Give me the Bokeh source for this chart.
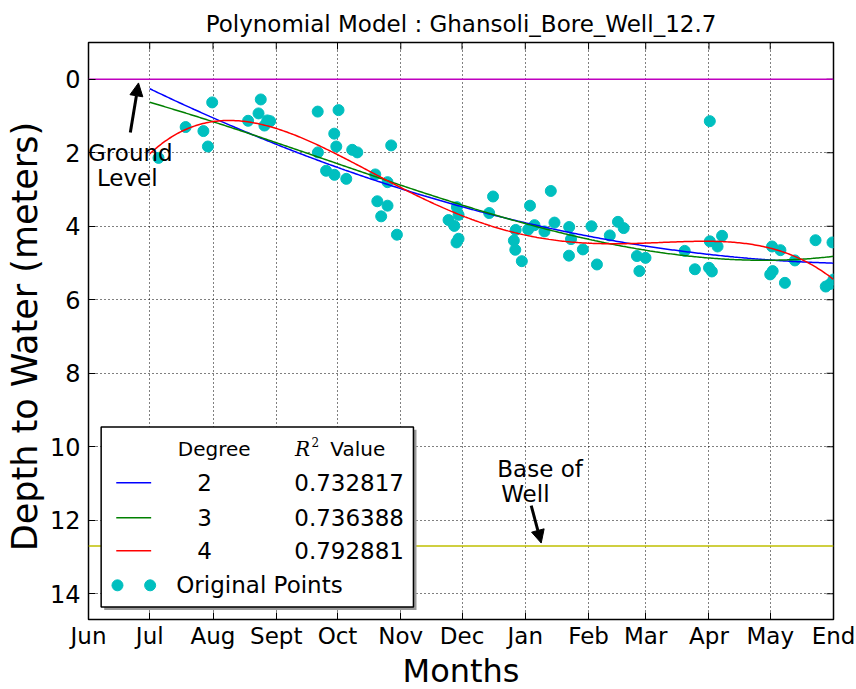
import numpy as np
from bokeh.plotting import figure
from bokeh.models import FixedTicker, Range1d, Arrow, NormalHead
from bokeh.embed import file_html
from bokeh.resources import INLINE
from bokeh.core.properties import value

# ---- axis layout data ----
month_labels = ["Jun", "Jul", "Aug", "Sept", "Oct", "Nov", "Dec",
                "Jan", "Feb", "Mar", "Apr", "May", "End"]
month_days = [0, 30, 61, 92, 122, 153, 183, 214, 245, 273, 304, 334, 365]
depth_ticks = [0, 2, 4, 6, 8, 10, 12, 14]

# ---- observed depth to water (days since 1 Jun, metres below ground) ----
obs_day = [34.3, 47.6, 56.3, 58.5, 60.6, 78.2, 83.3, 84.4, 86.2, 87.6,
           89.0, 112.3, 122.5, 120.4, 121.4, 112.4, 129.2, 131.7, 148.3, 116.4,
           120.5, 126.3, 140.5, 146.5, 141.5, 146.5, 143.4, 151.1, 176.4, 180.5,
           181.3, 179.2, 181.3, 180.3, 196.3, 198.2, 208.4, 209.1, 212.3, 209.3,
           216.3, 215.4, 218.5, 223.4, 226.5, 228.3, 235.5, 236.4, 235.4, 242.2,
           246.4, 249.1, 255.4, 259.4, 262.2, 268.7, 272.9, 269.9, 292.1, 297.1,
           304.4, 308.2, 310.4, 304.0, 305.4, 304.4, 334.9, 339.0, 346.1, 334.0,
           335.2, 341.2, 356.2, 364.5, 361.2, 363.4, 365.0]
obs_depth = [2.14, 1.30, 1.41, 1.83, 0.63, 1.13, 0.93, 0.55, 1.26, 1.12,
             1.14, 0.88, 0.84, 1.48, 1.83, 1.99, 1.92, 1.99, 1.80, 2.49,
             2.60, 2.71, 2.59, 2.80, 3.32, 3.44, 3.73, 4.23, 3.83, 3.48,
             3.69, 3.99, 4.34, 4.44, 3.64, 3.19, 4.39, 4.64, 4.95, 4.10,
             3.44, 4.09, 3.97, 4.14, 3.04, 3.90, 4.02, 4.35, 4.80, 4.63,
             4.00, 5.04, 4.25, 3.88, 4.05, 4.81, 4.86, 5.22, 4.67, 5.17,
             4.41, 4.55, 4.26, 5.13, 5.23, 1.14, 4.55, 4.65, 4.93, 5.31,
             5.22, 5.54, 4.38, 4.44, 5.64, 5.57, 5.45]

# ---- polynomial models ----
degrees = [2, 3, 4]
r2_values = ["0.732817", "0.736388", "0.792881"]
fit_colors = ["#0000ff", "#008000", "#ff0000"]
fit_start, fit_end = 30, 365

ground_level = 0.0
well_base = 12.7

FONT = "DejaVu Sans"
X_MIN, X_MAX = 0, 365
Y_TOP, Y_BOTTOM = -1, 14.7
FRAME_W, FRAME_H = 745, 577
TICK_PX = 7

p = figure(frame_width=FRAME_W, frame_height=FRAME_H,
           x_range=Range1d(X_MIN, X_MAX), y_range=Range1d(Y_BOTTOM, Y_TOP),
           output_backend="svg", toolbar_location=None,
           min_border_left=88, min_border_right=23,
           min_border_top=42, min_border_bottom=70)
p.background_fill_color = "white"
p.border_fill_color = "white"
p.outline_line_color = "black"
p.outline_line_width = 1.5

p.title.text = "Polynomial Model : Ghansoli_Bore_Well_12.7"
p.title.align = "center"
p.title.text_font = FONT
p.title.text_font_size = "23px"
p.title.text_font_style = "normal"
p.title.text_color = "black"
p.title.standoff = 12

# axes with inward ticks
p.xaxis.ticker = FixedTicker(ticks=month_days)
p.xaxis.major_label_overrides = {d: m for d, m in zip(month_days, month_labels)}
p.yaxis.ticker = FixedTicker(ticks=depth_ticks)
for ax in (p.xaxis[0], p.yaxis[0]):
    ax.axis_line_color = None
    ax.major_tick_in = TICK_PX
    ax.major_tick_out = 0
    ax.minor_tick_line_color = None
    ax.major_tick_line_color = "black"
    ax.major_label_text_color = "black"
    ax.axis_label_text_color = "black"
    ax.axis_label_text_font_style = "normal"
p.xaxis.major_label_text_font = FONT
p.xaxis.major_label_text_font_size = "23px"
p.xaxis.major_label_standoff = 3
p.xaxis.axis_label = "Months"
p.xaxis.axis_label_text_font = FONT
p.xaxis.axis_label_text_font_size = "32px"
p.xaxis.axis_label_standoff = 0
p.yaxis.major_label_text_font = FONT
p.yaxis.major_label_text_font_size = "24px"
p.yaxis.major_label_standoff = 8
p.yaxis.axis_label = "Depth to  Water (meters)"
p.yaxis.axis_label_text_font = FONT
p.yaxis.axis_label_text_font_size = "35px"
p.yaxis.axis_label_standoff = 2

# inward tick marks along the right and top edges
tick_dx = TICK_PX * (X_MAX - X_MIN) / FRAME_W
tick_dy = TICK_PX * (Y_BOTTOM - Y_TOP) / FRAME_H
p.segment(x0=[X_MAX] * len(depth_ticks), x1=[X_MAX - tick_dx] * len(depth_ticks),
          y0=depth_ticks, y1=depth_ticks, line_color="black", line_width=1)
p.segment(x0=month_days, x1=month_days, y0=[Y_TOP] * len(month_days),
          y1=[Y_TOP + tick_dy] * len(month_days), line_color="black", line_width=1)

# dotted grid
for g in (p.xgrid[0], p.ygrid[0]):
    g.grid_line_color = "black"
    g.grid_line_dash = "1 3"
    g.grid_line_width = 1
p.xgrid.ticker = FixedTicker(ticks=month_days)
p.ygrid.ticker = FixedTicker(ticks=depth_ticks)

# reference levels
span_x = [X_MIN, X_MAX]
p.line(span_x, [ground_level] * 2, line_color="#bf00bf", line_width=1.5)
p.line(span_x, [well_base] * 2, line_color="#bfbf00", line_width=1.5)

# observations and fitted models
p.scatter(obs_day, obs_depth, size=11, fill_color="#00bfbf", line_color="#00bfbf")
fit_x = np.linspace(fit_start, fit_end, 400)
for deg, col in zip(degrees, fit_colors):
    coef = np.polyfit(obs_day, obs_depth, deg)
    p.line(fit_x, np.polyval(coef, fit_x), line_color=col, line_width=1.5)

# annotations
p.add_layout(Arrow(x_start=20.5, y_start=1.45, x_end=24.5, y_end=0.1,
                   line_width=3, line_color="black",
                   end=NormalHead(size=13, fill_color="black", line_color="black")))
p.text([20.5, 19.0], [2.02, 2.70], ["Ground", "Level"], text_align="center",
       text_baseline="middle", text_font=value(FONT), text_font_size=value("23px"),
       text_color="black")
p.add_layout(Arrow(x_start=216.9, y_start=11.6, x_end=221.8, y_end=12.62,
                   line_width=3, line_color="black",
                   end=NormalHead(size=13, fill_color="black", line_color="black")))
p.text([200.3, 202.2], [10.6, 11.28], ["Base of", "Well"], text_align="left",
       text_baseline="middle", text_font=value(FONT), text_font_size=value("23px"),
       text_color="black")

# legend box with shadow
p.quad(left=[7.7], right=[160.7], top=[9.54], bottom=[14.44],
       fill_color="#999999", line_color=None)
p.quad(left=[6.2], right=[159.2], top=[9.46], bottom=[14.36],
       fill_color="white", line_color="black", line_width=1.5)
p.text([61.6], [10.05], ["Degree"], text_align="center", text_baseline="middle",
       text_font=value(FONT), text_font_size=value("20px"), text_color="black")
p.text([101.2], [10.05], ["R"], text_align="left", text_baseline="middle",
       text_font=value("DejaVu Serif"), text_font_style="italic",
       text_font_size=value("20px"), text_color="black")
p.text([109.2], [9.88], ["2"], text_align="left", text_baseline="middle",
       text_font=value("DejaVu Serif"), text_font_size=value("12px"), text_color="black")
p.text([118.5], [10.05], ["Value"], text_align="left", text_baseline="middle",
       text_font=value(FONT), text_font_size=value("20px"), text_color="black")
row_y = [10.98, 11.93, 12.83]
for deg, r2, col, y in zip(degrees, r2_values, fit_colors, row_y):
    p.line([13.6, 30.7], [y, y], line_color=col, line_width=1.5)
    p.text([56.9], [y], [str(deg)], text_align="center", text_baseline="middle",
           text_font=value(FONT), text_font_size=value("23px"), text_color="black")
    p.text([100.8], [y], [r2], text_align="left", text_baseline="middle",
           text_font=value(FONT), text_font_size=value("23px"), text_color="black")
p.scatter([14.2, 30.2], [13.77, 13.77], size=11, fill_color="#00bfbf", line_color="#00bfbf")
p.text([43.0], [13.77], ["Original Points"], text_align="left", text_baseline="middle",
       text_font=value(FONT), text_font_size=value("23px"), text_color="black")

open("out.html", "w").write(file_html(p, INLINE))
